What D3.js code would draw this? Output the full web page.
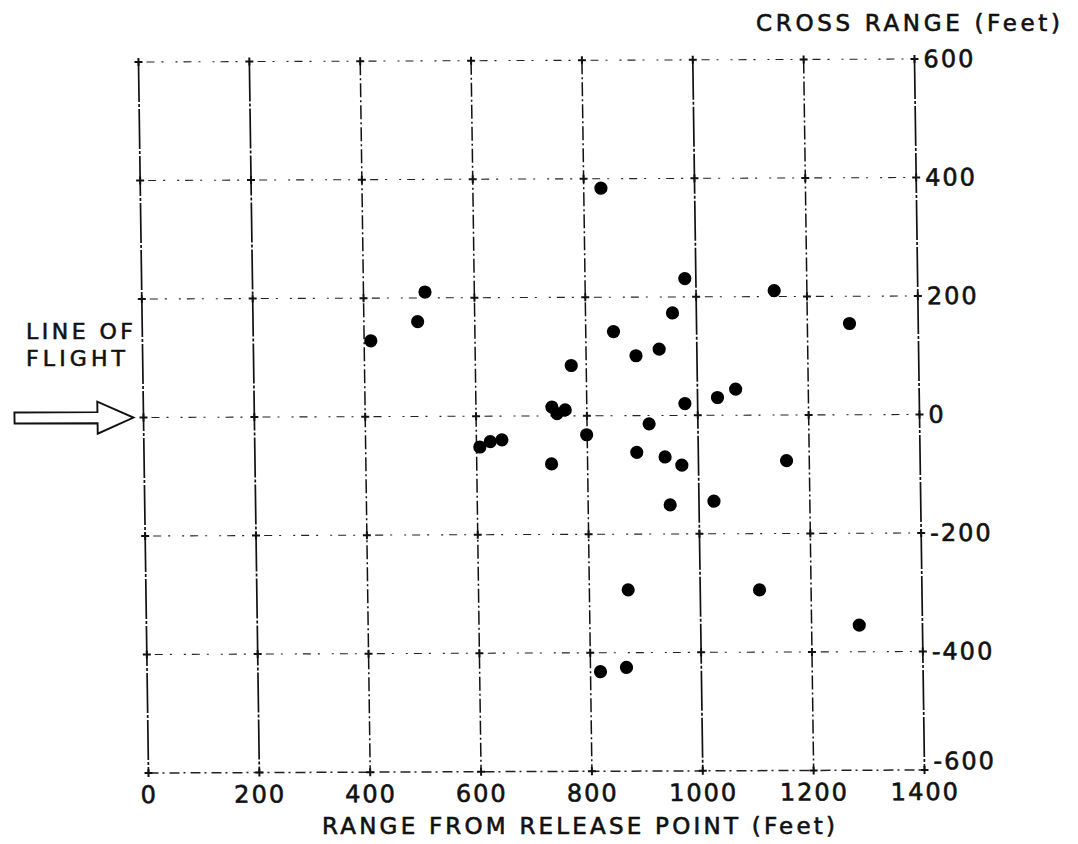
<!DOCTYPE html>
<html>
<head>
<meta charset="utf-8">
<script src="https://cdn.jsdelivr.net/npm/d3@7/dist/d3.min.js"></script>
<style>
  html, body { margin: 0; padding: 0; background: #fff; }
  svg { display: block; }
  text { font-family: "DejaVu Sans", "Liberation Sans", sans-serif; fill: #111; stroke: #111; stroke-width: 0.6px; }
</style>
</head>
<body>
<svg id="chart" width="1078" height="844"></svg>
<script>
// Impact points: range from release point vs. cross range (feet)
const rangeTicks = [0, 200, 400, 600, 800, 1000, 1200, 1400];
const crossTicks = [-600, -400, -200, 0, 200, 400, 600];

const rangeFt = [412, 497, 511, 831, 980, 1141, 1276, 850, 957, 890, 932, 773,
                 737, 746, 761, 912, 799, 606, 625, 646, 735, 889, 940, 970,
                 977, 1036, 1069, 1159, 1027, 948, 870, 1107, 818, 865, 1286];
const crossFt = [128, 160, 210, 384, 231, 210, 154, 142, 173, 101, 112, 85,
                 15, 4, 10, -14, -32, -52, -43, -40, -81, -62, -70, -84,
                 20, 30, 44, -77, -145, -151, -294, -295, -432, -425, -355];

const W = 776, H = 711;
const svg = d3.select("#chart");

// the plotting frame sits slightly skewed on the sheet
const g = svg.append("g")
  .attr("transform", "matrix(1,-0.00387,0.01406,1,138.5,62)");

const x = d3.scaleLinear().domain([0, 1400]).range([0, W]);
const y = d3.scaleLinear().domain([-600, 600]).range([H, 0]);

// vertical grid lines
const solidV = new Set([0, 200, 1000, 1400]);
g.append("g").selectAll("line").data(rangeTicks).join("line")
  .attr("x1", d => x(d)).attr("x2", d => x(d))
  .attr("y1", 0).attr("y2", H)
  .attr("stroke", "#111")
  .attr("stroke-width", d => solidV.has(d) ? 1.7 : 1.5)
  .attr("stroke-dasharray", d => solidV.has(d) ? "40,2,3,2" : "14,3,2,3");

// horizontal grid lines
g.append("g").selectAll("line").data(crossTicks).join("line")
  .attr("x1", 0).attr("x2", W)
  .attr("y1", d => y(d)).attr("y2", d => y(d))
  .attr("stroke", "#222")
  .attr("stroke-width", d => (d === -600) ? 1.5 : 1.1)
  .attr("stroke-dasharray", d => (d === -600) ? "10,4,2,5" : "2,6,8,7,2,12");

// small crosses at every grid intersection
const crosses = [];
rangeTicks.forEach(r => crossTicks.forEach(c => crosses.push([r, c])));
const cg = g.append("g").attr("stroke", "#111").attr("stroke-width", 2);
cg.selectAll("path").data(crosses).join("path")
  .attr("d", d => {
    const px = x(d[0]), py = y(d[1]);
    return `M${px - 4},${py}H${px + 4}M${px},${py - 4}V${py + 4}`;
  });

// axes (labels only)
const bottom = g.append("g")
  .attr("transform", `translate(0,${H})`)
  .call(d3.axisBottom(x).tickValues(rangeTicks).tickSize(0).tickPadding(13)
        .tickFormat(d => String(d)));
const right = g.append("g")
  .attr("transform", `translate(${W},0)`)
  .call(d3.axisRight(y).tickValues(crossTicks).tickSize(0).tickPadding(9)
        .tickFormat(d => String(d)));
[bottom, right].forEach(a => {
  a.select(".domain").remove();
  a.selectAll("text")
    .attr("font-size", 24)
    .attr("letter-spacing", 2)
    .style("font-family", "'DejaVu Sans', sans-serif")
    .attr("fill", "#111");
});
// the lowest cross-range label sits just above its grid line
right.selectAll(".tick").filter(d => d === -600).select("text").attr("dy", "-0.05em");

// impact points
g.append("g").selectAll("circle").data(rangeFt).join("circle")
  .attr("cx", (d, i) => x(d))
  .attr("cy", (d, i) => y(crossFt[i]))
  .attr("r", 6.6)
  .attr("fill", "#000");

// line-of-flight arrow pointing along cross range 0
const ay = y(0);
g.append("path")
  .attr("d", `M-129,${ay - 5.5}H-46V${ay - 16}L-10,${ay}L-46,${ay + 16}V${ay + 5.5}H-129Z`)
  .attr("fill", "none").attr("stroke", "#111").attr("stroke-width", 1.9);

// titles and annotations
svg.append("text").attr("x", 26).attr("y", 339).attr("font-size", 22)
  .attr("textLength", 107).attr("lengthAdjust", "spacing").text("LINE OF");
svg.append("text").attr("x", 26).attr("y", 366).attr("font-size", 22)
  .attr("textLength", 99).attr("lengthAdjust", "spacing").text("FLIGHT");
svg.append("text").attr("x", 322).attr("y", 834).attr("font-size", 23)
  .attr("textLength", 513).attr("lengthAdjust", "spacing")
  .text("RANGE FROM RELEASE POINT (Feet)");
svg.append("text").attr("x", 756).attr("y", 31).attr("font-size", 23)
  .attr("textLength", 304).attr("lengthAdjust", "spacing")
  .text("CROSS RANGE (Feet)");
</script>
</body>
</html>
